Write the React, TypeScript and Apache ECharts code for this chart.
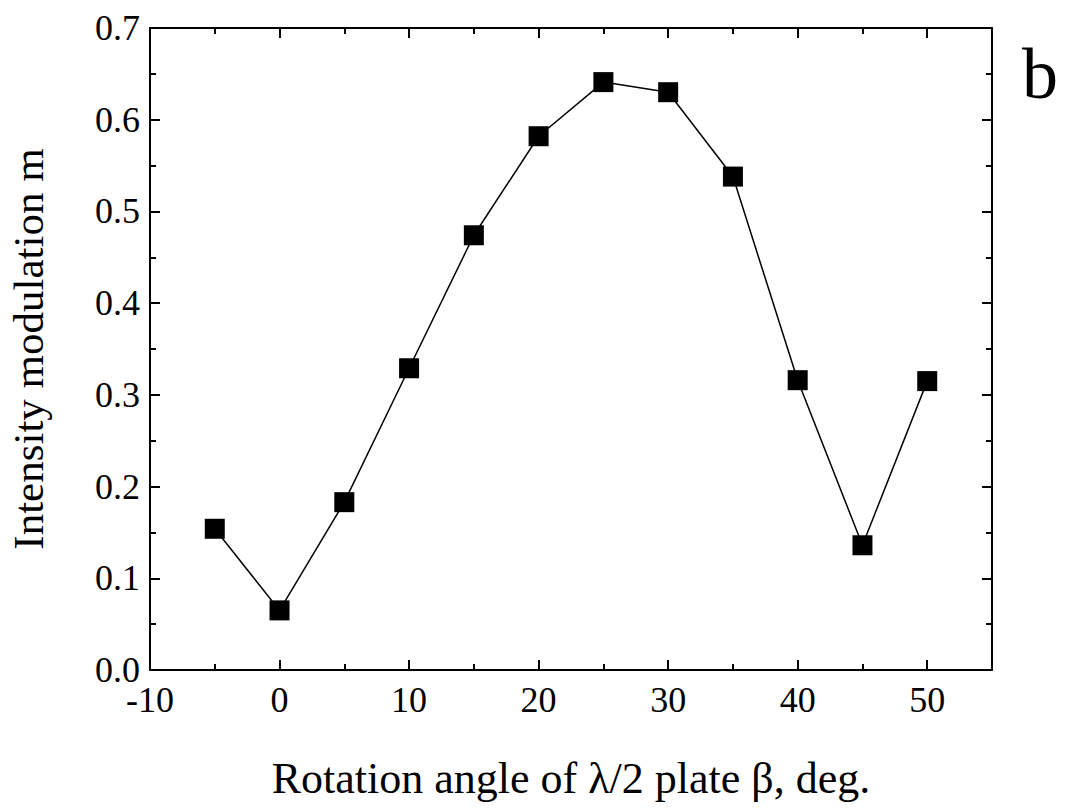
import { useEffect, useRef } from 'react'
import * as echarts from 'echarts'

const angles = [-5, 0, 5, 10, 15, 20, 25, 30, 35, 40, 45, 50]
const modulation = [0.154, 0.065, 0.183, 0.329, 0.474, 0.582, 0.641, 0.63, 0.538, 0.316, 0.136, 0.315]

const font = 'Liberation Serif'

export default function App() {
  const ref = useRef<HTMLDivElement | null>(null)

  useEffect(() => {
    document.body.style.margin = '0'
    if (!ref.current) return
    const chart = echarts.init(ref.current, undefined, { renderer: 'svg' })

    const axisLine = { show: true, onZero: false, lineStyle: { color: '#000', width: 2 } }
    const tick = { inside: true, length: 10, lineStyle: { color: '#000', width: 2 } }
    const minor = { show: true, splitNumber: 2, length: 6, lineStyle: { color: '#000', width: 2 } }

    chart.setOption({
      animation: false,
      backgroundColor: '#fff',
      grid: { left: 150, top: 28, right: 91, bottom: 141, outerBoundsMode: 'none', containLabel: false },
      graphic: [
        { type: 'text', left: 1022, top: 38, style: { text: 'b', font: `72px "${font}"`, fill: '#000' } }
      ],
      xAxis: [
        {
          type: 'value', min: -10, max: 55, interval: 10,
          name: 'Rotation angle of λ/2 plate β, deg.',
          nameLocation: 'middle', nameGap: 86,
          nameTextStyle: { fontFamily: font, fontSize: 44, color: '#000' },
          axisLine, axisTick: tick, minorTick: minor, splitLine: { show: false },
          axisLabel: {
            fontFamily: font, fontSize: 36, color: '#000', margin: 12,
            formatter: (v: number) => (v > 50 ? '' : String(v))
          }
        },
        {
          type: 'value', position: 'top', min: -10, max: 55, interval: 10,
          axisLine, axisTick: tick, minorTick: minor, axisLabel: { show: false }, splitLine: { show: false }
        }
      ],
      yAxis: [
        {
          type: 'value', min: 0, max: 0.7, interval: 0.1,
          name: 'Intensity modulation m',
          nameLocation: 'middle', nameGap: 100,
          nameTextStyle: { fontFamily: font, fontSize: 43, color: '#000' },
          axisLine, axisTick: tick, minorTick: minor, splitLine: { show: false },
          axisLabel: {
            fontFamily: font, fontSize: 36, color: '#000', margin: 10,
            formatter: (v: number) => v.toFixed(1)
          }
        },
        {
          type: 'value', position: 'right', min: 0, max: 0.7, interval: 0.1,
          axisLine, axisTick: tick, minorTick: minor, axisLabel: { show: false }, splitLine: { show: false }
        }
      ],
      series: [
        {
          type: 'line',
          data: angles.map((a, i) => [a, modulation[i]]),
          symbol: 'rect', symbolSize: 20,
          itemStyle: { color: '#000' },
          lineStyle: { color: '#000', width: 1.5 }
        }
      ]
    })

    return () => chart.dispose()
  }, [])

  return <div ref={ref} style={{ width: 1083, height: 811 }} />
}
